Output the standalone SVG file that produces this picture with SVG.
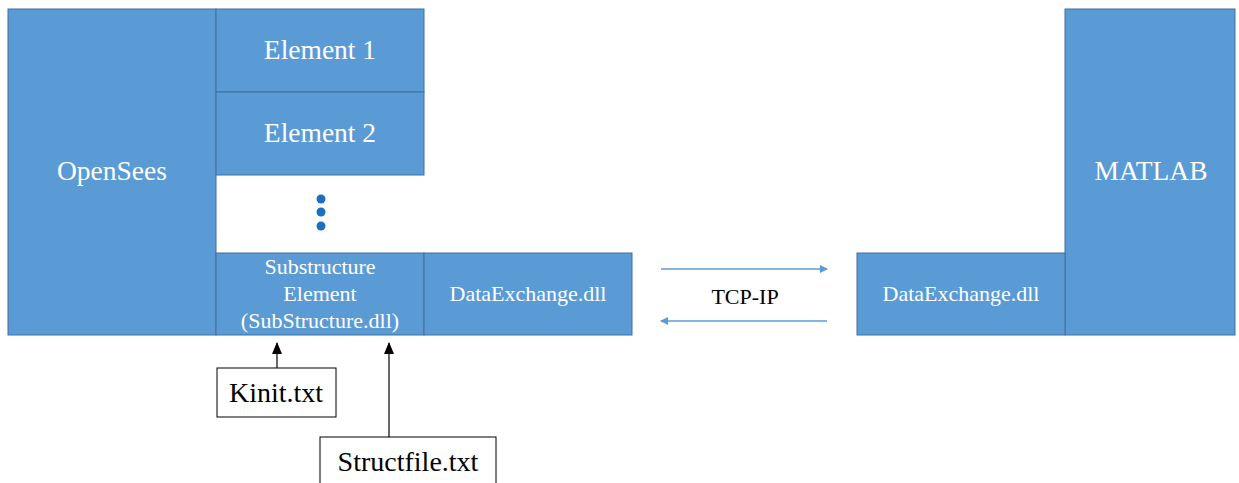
<svg xmlns="http://www.w3.org/2000/svg" width="1239" height="483" viewBox="0 0 1239 483">
<style>
.b{fill:#5B9BD5;stroke:#41719C;stroke-width:1}
.w{fill:#fff;font-family:"Liberation Serif",serif;text-anchor:middle}
.k{fill:#000;font-family:"Liberation Serif",serif;text-anchor:middle}
.f{fill:#fff;stroke:#000;stroke-width:1}
</style>
<defs>
<marker id="ab" markerWidth="8" markerHeight="8" refX="7" refY="4" orient="auto" markerUnits="userSpaceOnUse"><path d="M0,0 L8,4 L0,8 z" fill="#5B9BD5"/></marker>
<marker id="ak" markerWidth="12" markerHeight="10" refX="11" refY="5" orient="auto" markerUnits="userSpaceOnUse"><path d="M0,0 L12,5 L0,10 z" fill="#000"/></marker>
</defs>
<rect width="1239" height="483" fill="#fff"/>
<g id="opensees"><rect class="b" x="8" y="9" width="208" height="326"/><text class="w" x="112" y="180" font-size="27.5">OpenSees</text></g>
<g id="element1"><rect class="b" x="216" y="9" width="208" height="83"/><text class="w" x="320" y="59" font-size="27.5">Element 1</text></g>
<g id="element2"><rect class="b" x="216" y="92" width="208" height="83"/><text class="w" x="320" y="142" font-size="27.5">Element 2</text></g>
<g id="dots" fill="#1F6FBF"><circle cx="321" cy="199" r="4.5"/><circle cx="321" cy="212" r="4.5"/><circle cx="321" cy="226" r="4.5"/></g>
<g id="substructure"><rect class="b" x="216" y="253" width="208" height="82"/><text class="w" font-size="22"><tspan x="320" y="274">Substructure</tspan><tspan x="320" y="301">Element</tspan><tspan x="320" y="328">(SubStructure.dll)</tspan></text></g>
<g id="dataexchange-left"><rect class="b" x="424" y="253" width="208" height="82"/><text class="w" x="528" y="301" font-size="22">DataExchange.dll</text></g>
<g id="matlab"><rect class="b" x="1065" y="9" width="170" height="326"/><text class="w" x="1151" y="180" font-size="27.5">MATLAB</text></g>
<g id="dataexchange-right"><rect class="b" x="857" y="253" width="208" height="82"/><text class="w" x="961" y="301" font-size="22">DataExchange.dll</text></g>
<g id="tcpip"><text class="k" x="745" y="304" font-size="22">TCP-IP</text></g>
<g id="kinit"><rect class="f" x="217" y="368" width="119" height="49"/><text class="k" x="276" y="402" font-size="28">Kinit.txt</text></g>
<g id="structfile"><rect class="f" x="320" y="437" width="176" height="50"/><text class="k" x="408" y="471" font-size="28">Structfile.txt</text></g>
<g id="connectors" fill="none">
<line x1="661" y1="269" x2="827" y2="269" stroke="#5B9BD5" stroke-width="1.5" marker-end="url(#ab)"/>
<line x1="827" y1="321" x2="661" y2="321" stroke="#5B9BD5" stroke-width="1.5" marker-end="url(#ab)"/>
<line x1="277" y1="368" x2="277" y2="343" stroke="#000" stroke-width="1.2" marker-end="url(#ak)"/>
<line x1="389" y1="437" x2="389" y2="343" stroke="#000" stroke-width="1.2" marker-end="url(#ak)"/>
</g>
</svg>
